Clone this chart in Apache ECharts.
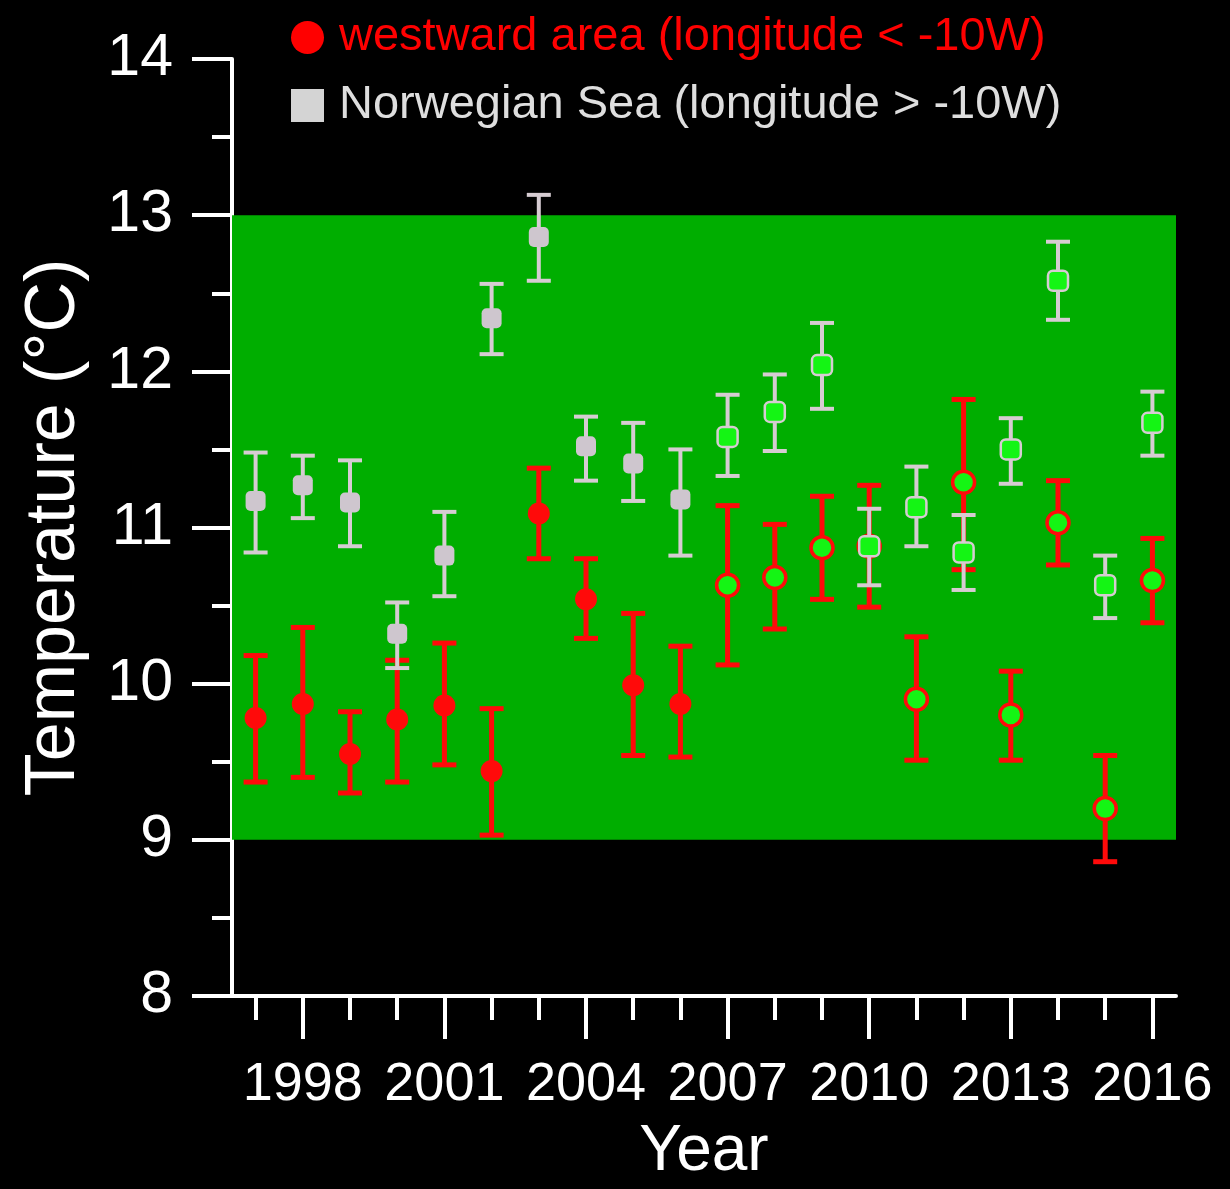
<!DOCTYPE html>
<html>
<head>
<meta charset="utf-8">
<script src="https://cdn.jsdelivr.net/npm/echarts@6/dist/echarts.min.js"></script>
<style>
html,body{margin:0;padding:0;background:#000;}
#chart{width:1230px;height:1189px;}
</style>
</head>
<body>
<div id="chart"></div>
<script>
// ---- data ----
const years = ['1997','1998','1999','2000','2001','2002','2003','2004','2005','2006',
               '2007','2008','2009','2010','2011','2012','2013','2014','2015','2016'];
const labelYears = ['1998','2001','2004','2007','2010','2013','2016'];

const westMean = [9.78, 9.87, 9.55, 9.77, 9.86, 9.44, 11.09, 10.54, 9.99, 9.87,
                  10.63, 10.68, 10.87, 10.88, 9.90, 11.29, 9.80, 11.03, 9.20, 10.66];
const westLow  = [9.37, 9.40, 9.30, 9.37, 9.48, 9.03, 10.80, 10.29, 9.54, 9.53,
                  10.12, 10.35, 10.54, 10.49, 9.51, 10.73, 9.51, 10.76, 8.86, 10.39];
const westHigh = [10.18, 10.36, 9.82, 10.15, 10.26, 9.84, 11.38, 10.80, 10.45, 10.24,
                  11.14, 11.02, 11.20, 11.27, 10.30, 11.82, 10.08, 11.30, 9.54, 10.93];

const norMean  = [11.17, 11.27, 11.16, 10.32, 10.82, 12.34, 12.86, 11.52, 11.41, 11.18,
                  11.58, 11.74, 12.04, 10.88, 11.13, 10.84, 11.50, 12.58, 10.63, 11.67];
const norLow   = [10.84, 11.06, 10.88, 10.10, 10.56, 12.11, 12.58, 11.30, 11.17, 10.82,
                  11.33, 11.49, 11.76, 10.63, 10.88, 10.60, 11.28, 12.33, 10.42, 11.46];
const norHigh  = [11.48, 11.46, 11.43, 10.52, 11.10, 12.56, 13.13, 11.71, 11.67, 11.50,
                  11.85, 11.98, 12.31, 11.12, 11.39, 11.08, 11.70, 12.83, 10.82, 11.87];

const bandRange = [9, 13];
const hollowFrom = 2007;
const westName = 'westward area (longitude < -10W)';
const norName = 'Norwegian Sea (longitude > -10W)';

// ---- styles ----
const FONT = '"Liberation Sans", Arial, sans-serif';
const RED = '#ff0a0a';
const GRAY = '#cec6ce';
const GRAY_BAR = '#d6ccd2';
const LIME = '#14f514';
const BAND = '#00ae00';

function errRender(color, lw, capW) {
  return function (params, api) {
    const x = api.value(0), lo = api.value(1), hi = api.value(2);
    const a = api.coord([x, lo]), b = api.coord([x, hi]);
    const h = capW / 2;
    const st = {stroke: color, lineWidth: lw};
    return {type: 'group', children: [
      {type: 'line', shape: {x1: a[0], y1: a[1], x2: b[0], y2: b[1]}, style: st},
      {type: 'line', shape: {x1: b[0] - h, y1: b[1], x2: b[0] + h, y2: b[1]}, style: st},
      {type: 'line', shape: {x1: a[0] - h, y1: a[1], x2: a[0] + h, y2: a[1]}, style: st}
    ]};
  };
}

const westErr = years.map((y, i) => [i, westLow[i], westHigh[i]]);
const norErr = years.map((y, i) => [i, norLow[i], norHigh[i]]);

const westPts = years.map((y, i) => {
  const hollow = +y >= hollowFrom;
  return {
    value: [i, westMean[i]],
    symbol: 'circle',
    symbolSize: 22,
    itemStyle: hollow ? {color: LIME, borderColor: RED, borderWidth: 3.5, opacity: 1}
                      : {color: RED, borderWidth: 0, opacity: 1}
  };
});
const norPts = years.map((y, i) => {
  const hollow = +y >= hollowFrom;
  return {
    value: [i, norMean[i]],
    symbol: 'roundRect',
    symbolSize: 20,
    itemStyle: hollow ? {color: LIME, borderColor: GRAY_BAR, borderWidth: 2.5, opacity: 1}
                      : {color: GRAY, borderWidth: 0, opacity: 1}
  };
});

const chart = echarts.init(document.getElementById('chart'), null, {renderer: 'canvas'});
chart.setOption({
  backgroundColor: '#000',
  animation: false,
  textStyle: {fontFamily: FONT},
  grid: {left: 232, right: 54, top: 59, bottom: 191, containLabel: false},
  legend: {
    orient: 'vertical',
    left: 286,
    top: 9,
    itemWidth: 33,
    itemHeight: 33,
    itemGap: 21,
    selectedMode: false,
    textStyle: {fontSize: 47, fontFamily: FONT, lineHeight: 47, padding: [0, 0, 0, 10]},
    data: [
      {name: westName, icon: 'circle', itemStyle: {color: '#ff0000', borderWidth: 0}, textStyle: {color: '#ff0000'}},
      {name: norName, icon: 'rect', itemStyle: {color: '#d4d4d4', borderWidth: 0}, textStyle: {color: '#dedede'}}
    ]
  },
  xAxis: [
    {
      type: 'category',
      data: years,
      boundaryGap: true,
      name: 'Year',
      nameLocation: 'middle',
      nameGap: 124,
      nameTextStyle: {color: '#fff', fontSize: 64, fontFamily: FONT},
      axisLine: {show: true, lineStyle: {color: '#fff', width: 4}},
      axisTick: {show: true, alignWithLabel: true, interval: 0, length: 24, lineStyle: {color: '#fff', width: 4}},
      axisLabel: {show: false},
      splitLine: {show: false}
    },
    {
      type: 'category',
      data: years,
      boundaryGap: true,
      position: 'bottom',
      gridIndex: 0,
      axisLine: {show: false},
      axisTick: {show: true, alignWithLabel: true, length: 43,
        interval: (i, v) => labelYears.indexOf(v) >= 0,
        lineStyle: {color: '#fff', width: 4}},
      axisLabel: {show: true, color: '#fff', fontSize: 54, fontFamily: FONT, margin: 62,
        interval: (i, v) => labelYears.indexOf(v) >= 0},
      splitLine: {show: false}
    }
  ],
  yAxis: {
    type: 'value',
    min: 8,
    max: 14,
    interval: 1,
    name: 'Temperature (°C)',
    nameLocation: 'middle',
    nameGap: 142,
    nameRotate: 90,
    nameTextStyle: {color: '#fff', fontSize: 70, fontFamily: FONT},
    axisLine: {show: true, lineStyle: {color: '#fff', width: 4}},
    axisTick: {show: true, length: 40, lineStyle: {color: '#fff', width: 4}},
    minorTick: {show: true, splitNumber: 2, length: 20, lineStyle: {color: '#fff', width: 4}},
    axisLabel: {color: '#fff', fontSize: 59, fontFamily: FONT, margin: 59},
    splitLine: {show: false},
    minorSplitLine: {show: false}
  },
  series: [
    {
      type: 'line',
      name: 'band',
      data: [],
      z: 0,
      silent: true,
      markArea: {
        silent: true,
        itemStyle: {color: BAND, opacity: 1},
        data: [[{yAxis: bandRange[0]}, {yAxis: bandRange[1]}]]
      }
    },
    {
      type: 'custom',
      name: 'westErr',
      renderItem: errRender(RED, 5, 24),
      data: westErr,
      encode: {x: 0, y: [1, 2]},
      z: 2,
      silent: true
    },
    {
      type: 'scatter',
      name: westName,
      data: westPts,
      itemStyle: {color: RED, opacity: 1},
      z: 3,
      silent: true
    },
    {
      type: 'custom',
      name: 'norErr',
      renderItem: errRender(GRAY_BAR, 4, 24),
      data: norErr,
      encode: {x: 0, y: [1, 2]},
      z: 4,
      silent: true
    },
    {
      type: 'scatter',
      name: norName,
      data: norPts,
      itemStyle: {color: GRAY, opacity: 1},
      z: 5,
      silent: true
    }
  ]
});
</script>
</body>
</html>
